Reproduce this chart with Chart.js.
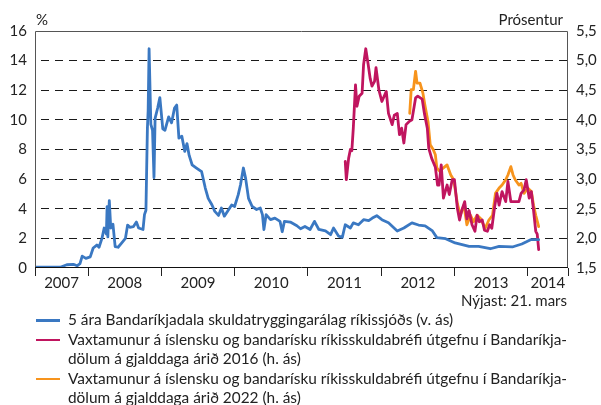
<!DOCTYPE html>
<html lang="is">
<head>
<meta charset="utf-8">
<script src="https://cdn.jsdelivr.net/npm/chart.js@4.4.1/dist/chart.umd.min.js"></script>
<style>
  html, body { margin: 0; padding: 0; background: #fff; }
  #wrap { position: relative; width: 601px; height: 405px; font-family: Lato, "Open Sans", sans-serif; color: #222; }
  #chart { position: absolute; left: 0; top: 0; }
  .lbl { position: absolute; font-size: 15px; line-height: 19px; white-space: nowrap; }
  #legend { position: absolute; left: 0; top: 310px; width: 601px; }
  .item { position: relative; padding-left: 68px; font-size: 15.4px; line-height: 19.6px; width: 520px; white-space: nowrap; }
  .item i { position: absolute; left: 36px; top: 9px; width: 24px; height: 2.5px; }
</style>
</head>
<body>
<div id="wrap">
  <canvas id="chart" width="601" height="295"></canvas>
  <div class="lbl" style="left:36px; top:10px;">%</div>
  <div class="lbl" style="right:38px; top:10px;">Prósentur</div>
  <div class="lbl" style="right:34px; top:291px;">Nýjast: 21. mars</div>
  <div id="legend"></div>
</div>
<script>
// ---- Data (x = decimal year) ----
const yearLabels = ['2007', '2008', '2009', '2010', '2011', '2012', '2013', '2014'];

// 5 ára skuldatryggingarálag, vinstri ás (%)
const cdsYears = [2007.276, 2007.62, 2007.71, 2007.80, 2007.85, 2007.89, 2007.92, 2007.97, 2008.03, 2008.07,
  2008.12, 2008.15, 2008.19, 2008.22, 2008.25, 2008.26, 2008.27, 2008.29, 2008.31, 2008.34,
  2008.37, 2008.41, 2008.46, 2008.51, 2008.54, 2008.57, 2008.62, 2008.66, 2008.69, 2008.75,
  2008.77, 2008.79, 2008.81, 2008.82, 2008.833, 2008.857, 2008.88, 2008.90, 2008.915, 2008.95,
  2008.98, 2009.02, 2009.05, 2009.10, 2009.14, 2009.18, 2009.21, 2009.24, 2009.28, 2009.32,
  2009.35, 2009.38, 2009.42, 2009.48, 2009.55, 2009.60, 2009.64, 2009.69, 2009.73, 2009.78,
  2009.82, 2009.86, 2009.92, 2009.96, 2010.00, 2010.05, 2010.08, 2010.12, 2010.15, 2010.19,
  2010.24, 2010.30, 2010.35, 2010.38, 2010.40, 2010.43, 2010.49, 2010.55, 2010.62, 2010.65,
  2010.68, 2010.76, 2010.85, 2010.90, 2010.96, 2011.03, 2011.09, 2011.15, 2011.24, 2011.31,
  2011.35, 2011.42, 2011.47, 2011.51, 2011.58, 2011.62, 2011.69, 2011.76, 2011.83, 2011.88,
  2011.94, 2012.01, 2012.10, 2012.22, 2012.31, 2012.42, 2012.51, 2012.60, 2012.70, 2012.76,
  2012.88, 2013.01, 2013.20, 2013.33, 2013.49, 2013.61, 2013.79, 2013.92, 2014.04, 2014.15];
const cdsValues = [0.05, 0.05, 0.22, 0.25, 0.15, 0.3, 0.8, 0.65, 0.75, 1.35,
  1.55, 1.4, 2.0, 2.7, 2.3, 4.15, 2.1, 4.55, 2.7, 2.95,
  1.45, 1.4, 1.7, 2.0, 2.9, 2.75, 2.8, 3.1, 2.7, 2.6,
  3.6, 3.9, 9.45, 10.6, 14.8, 9.7, 9.3, 6.1, 10.1, 10.8,
  11.5, 9.4, 9.3, 10.2, 9.8, 10.8, 11.0, 8.77, 8.9, 7.87,
  8.4, 7.6, 6.97, 6.75, 6.5, 5.4, 4.7, 4.27, 3.82, 3.55,
  4.05, 3.5, 3.95, 4.25, 4.15, 4.95, 5.6, 6.75, 6.07, 4.7,
  4.15, 3.95, 4.05, 3.6, 2.6, 3.6, 3.27, 3.37, 3.15, 2.45,
  3.15, 3.1, 2.85, 2.65, 2.8, 2.6, 3.15, 2.6, 2.5, 2.25,
  2.7, 2.15, 2.07, 2.92, 2.7, 3.05, 2.92, 3.26, 3.2, 3.37,
  3.53, 3.26, 3.05, 2.5, 2.7, 3.05, 2.9, 2.85, 2.5, 2.05,
  1.98, 1.69, 1.46, 1.46, 1.3, 1.46, 1.42, 1.62, 1.91, 1.91];

// Vaxtamunur, bréf á gjalddaga 2016, hægri ás
const spread16Years = [2011.51, 2011.525, 2011.556, 2011.58, 2011.60, 2011.62, 2011.65, 2011.67, 2011.70, 2011.74,
  2011.76, 2011.79, 2011.82, 2011.85, 2011.875, 2011.91, 2011.93, 2011.97, 2012.01, 2012.07,
  2012.10, 2012.15, 2012.18, 2012.22, 2012.25, 2012.28, 2012.31, 2012.34, 2012.38, 2012.42,
  2012.47, 2012.50, 2012.56, 2012.59, 2012.63, 2012.65, 2012.69, 2012.74, 2012.77, 2012.79,
  2012.82, 2012.85, 2012.90, 2012.93, 2012.97, 2013.00, 2013.04, 2013.07, 2013.10, 2013.14,
  2013.17, 2013.20, 2013.24, 2013.28, 2013.31, 2013.34, 2013.38, 2013.41, 2013.45, 2013.48,
  2013.51, 2013.55, 2013.58, 2013.61, 2013.65, 2013.70, 2013.73, 2013.77, 2013.82, 2013.88,
  2013.91, 2013.95, 2013.98, 2014.02, 2014.05, 2014.08, 2014.11, 2014.13, 2014.15];
const spread16Values = [3.3, 2.99, 3.35, 3.5, 3.48, 3.86, 4.59, 4.23, 4.4, 4.45,
  4.93, 5.2, 4.96, 4.7, 4.57, 4.65, 4.88, 4.5, 4.31, 4.48,
  4.11, 3.92, 4.08, 4.11, 3.75, 3.86, 3.61, 3.92, 3.97, 4.0,
  4.37, 4.4, 4.35, 4.11, 3.86, 3.52, 3.35, 3.2, 2.9, 2.9,
  3.24, 2.68, 2.9, 2.74, 2.99, 2.99, 2.51, 2.31, 2.47, 2.62,
  2.33, 2.47, 2.23, 2.12, 2.39, 2.28, 2.31, 2.14, 2.12, 2.23,
  2.17, 2.54, 2.76, 2.56, 2.79, 2.62, 2.96, 2.62, 2.62, 2.62,
  2.76, 2.82, 2.99, 2.68, 2.79, 2.47, 2.12, 2.07, 1.81];

// Vaxtamunur, bréf á gjalddaga 2022, hægri ás
const spread22Years = [2012.39, 2012.41, 2012.44, 2012.47, 2012.49, 2012.53, 2012.57, 2012.60, 2012.64, 2012.67,
  2012.71, 2012.74, 2012.76, 2012.80, 2012.85, 2012.90, 2012.95, 2012.99, 2013.04, 2013.08,
  2013.13, 2013.17, 2013.22, 2013.26, 2013.31, 2013.36, 2013.42, 2013.47, 2013.52, 2013.56,
  2013.61, 2013.65, 2013.70, 2013.73, 2013.77, 2013.80, 2013.83, 2013.88, 2013.91, 2013.95,
  2014.00, 2014.05, 2014.08, 2014.11, 2014.15];
const spread22Values = [4.11, 4.51, 4.51, 4.82, 4.62, 4.62, 4.45, 4.23, 3.97, 3.58,
  3.5, 3.41, 3.19, 3.13, 3.19, 3.24, 3.07, 2.99, 2.59, 2.39,
  2.56, 2.23, 2.39, 2.28, 2.39, 2.33, 2.17, 2.31, 2.39, 2.76,
  2.85, 2.9, 2.99, 3.07, 3.21, 3.07, 2.99, 2.9, 2.93, 2.76,
  2.85, 2.79, 2.56, 2.39, 2.2];

const seriesNames = [
  '5 ára Bandaríkjadala skuldatryggingarálag ríkissjóðs (v. ás)',
  'Vaxtamunur á íslensku og bandarísku ríkisskuldabréfi útgefnu í Bandaríkja-<br>dölum á gjalddaga árið 2016 (h. ás)',
  'Vaxtamunur á íslensku og bandarísku ríkisskuldabréfi útgefnu í Bandaríkja-<br>dölum á gjalddaga árið 2022 (h. ás)'
];
const seriesColors = ['#3a78c2', '#c0155f', '#f7941d'];

const X_MIN = 2007.276, X_MAX = 2014.55;
const FONT = 'Lato, "Open Sans", sans-serif';

function toPoints(xs, ys) {
  return xs.map((x, i) => ({ x: x, y: ys[i] }));
}

// box round the plot area and year labels centred in each year band
const framePlugin = {
  id: 'frame',
  afterDraw(chart) {
    const { ctx, chartArea: a, scales } = chart;
    const xs = scales.x;
    ctx.save();
    ctx.lineWidth = 1;
    ctx.strokeStyle = '#555';
    ctx.beginPath();
    ctx.moveTo(a.left + 0.5, a.bottom);
    ctx.lineTo(a.left + 0.5, a.top + 0.5);
    ctx.lineTo(a.right - 0.5, a.top + 0.5);
    ctx.lineTo(a.right - 0.5, a.bottom);
    ctx.stroke();
    ctx.strokeStyle = '#111';
    ctx.beginPath();
    ctx.moveTo(a.left, a.bottom - 0.5);
    ctx.lineTo(a.right, a.bottom - 0.5);
    ctx.stroke();

    ctx.fillStyle = '#222';
    ctx.font = '15px ' + FONT;
    ctx.textAlign = 'center';
    ctx.textBaseline = 'middle';
    yearLabels.forEach((lab) => {
      const y0 = Math.max(Number(lab), X_MIN);
      const y1 = Math.min(Number(lab) + 1, X_MAX);
      const px = (xs.getPixelForValue(y0) + xs.getPixelForValue(y1)) / 2;
      ctx.fillText(lab, px, a.bottom + 15);
    });
    ctx.restore();
  }
};

new Chart(document.getElementById('chart'), {
  type: 'line',
  data: {
    datasets: [
      { label: 'cds', data: toPoints(cdsYears, cdsValues), yAxisID: 'yL', borderColor: seriesColors[0] },
      { label: '2016', data: toPoints(spread16Years, spread16Values), yAxisID: 'yR', borderColor: seriesColors[1] },
      { label: '2022', data: toPoints(spread22Years, spread22Values), yAxisID: 'yR', borderColor: seriesColors[2] }
    ]
  },
  options: {
    responsive: false,
    animation: false,
    devicePixelRatio: 1,
    layout: { padding: { top: 31, left: 0, right: 0, bottom: 0 } },
    elements: {
      line: { borderWidth: 2.8, tension: 0, borderJoinStyle: 'round', borderCapStyle: 'round' },
      point: { radius: 0 }
    },
    plugins: { legend: { display: false }, tooltip: { enabled: false } },
    scales: {
      x: {
        type: 'linear',
        min: X_MIN,
        max: X_MAX,
        afterBuildTicks(s) {
          const t = [{ value: X_MIN }];
          for (let y = 2008; y <= 2014; y++) t.push({ value: y });
          t.push({ value: X_MAX });
          s.ticks = t;
        },
        afterFit(s) { s.height = 27; },
        ticks: { display: false },
        grid: { drawOnChartArea: false, drawTicks: true, tickLength: 8, color: '#222', lineWidth: 1 },
        border: { display: false }
      },
      yL: {
        position: 'left',
        min: 0,
        max: 16,
        afterFit(s) { s.width = 35; },
        ticks: { stepSize: 2, padding: 8, color: '#222', font: { family: FONT, size: 15 } },
        grid: {
          drawTicks: false,
          lineWidth: 1,
          color: c => (c.tick.value === 0 || c.tick.value === 16) ? 'rgba(0,0,0,0)' : '#1a1a1a'
        },
        border: { display: false, dash: [8, 6], dashOffset: -6 }
      },
      yR: {
        position: 'right',
        min: 1.5,
        max: 5.5,
        afterFit(s) { s.width = 33; },
        ticks: {
          stepSize: 0.5, padding: 8, color: '#222', font: { family: FONT, size: 15 },
          callback: v => v.toFixed(1).replace('.', ',')
        },
        grid: { display: false, drawTicks: false },
        border: { display: false }
      }
    }
  },
  plugins: [framePlugin]
});

// legend below the chart
const legend = document.getElementById('legend');
seriesNames.forEach((name, i) => {
  const d = document.createElement('div');
  d.className = 'item';
  d.innerHTML = '<i style="background:' + seriesColors[i] + '"></i>' + name;
  legend.appendChild(d);
});
</script>
</body>
</html>
